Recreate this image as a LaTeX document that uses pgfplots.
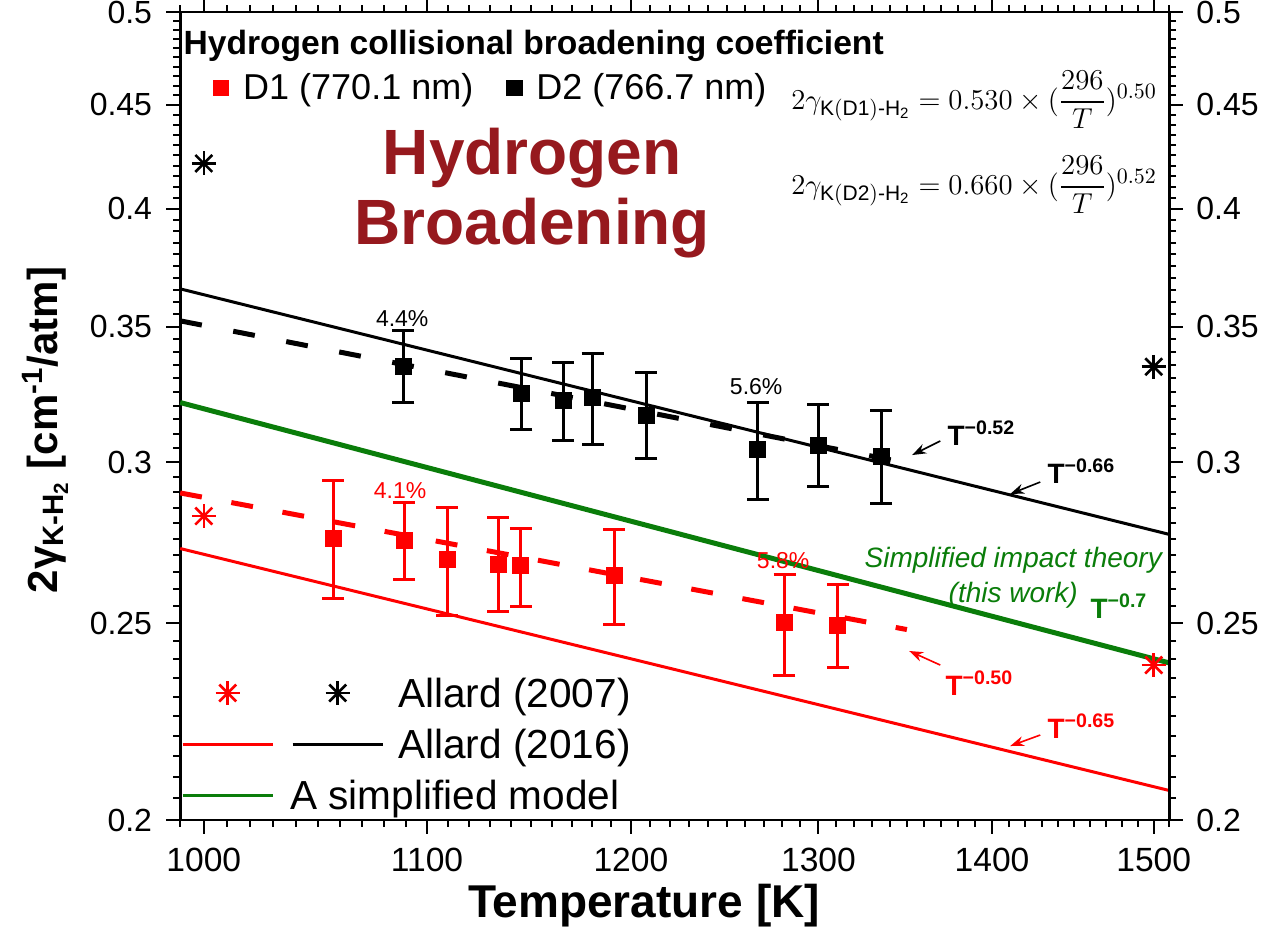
\documentclass[border=0pt]{standalone}
\usepackage{amsmath}
\usepackage{fontspec}
\usepackage{pgfplots}
\usepackage{pgfplotstable}
\pgfplotsset{compat=1.18}
\usetikzlibrary{arrows.meta}
\setmainfont{Liberation Sans}
\definecolor{hbred}{RGB}{150,25,30}
\definecolor{dgreen}{RGB}{10,125,10}

% D2 (766.7 nm): T, value, error plus, error minus
\pgfplotstableread{
T y ep em
1088.9 0.3344 0.0139 0.0134
1145.2 0.3245 0.0131 0.0129
1165.8 0.3220 0.0141 0.0145
1180.5 0.3230 0.0165 0.0167
1207.9 0.3166 0.0155 0.0152
1266.8 0.3045 0.0167 0.0168
1300.0 0.3060 0.0144 0.0139
1335.3 0.3020 0.0161 0.0158
}\dtwo
% D1 (770.1 nm)
\pgfplotstableread{
T y ep em
1056.9 0.2753 0.0186 0.0181
1089.3 0.2747 0.0119 0.0119
1109.5 0.2688 0.0163 0.0165
1133.9 0.2674 0.0144 0.0141
1144.9 0.2668 0.0116 0.0119
1191.4 0.2638 0.0143 0.0143
1281.3 0.2502 0.0139 0.0145
1310.8 0.2495 0.0118 0.0118
}\done

\begin{document}
\begin{tikzpicture}
\begin{axis}[scale only axis, width=494.5pt, height=404pt,
  xmode=log, ymode=log, xmin=990, xmax=1510, ymin=0.2, ymax=0.5,
  tick align=outside, major tick length=7pt,
  tick style={draw=black, line width=1pt},
  ytick={0.2,0.25,0.3,0.35,0.4,0.45,0.5},
  yticklabels={0.2,0.25,0.3,0.35,0.4,0.45,0.5},
  extra y ticks={0.205,0.21,0.215,0.22,0.225,0.23,0.235,0.24,0.245,
    0.255,0.26,0.265,0.27,0.275,0.28,0.285,0.29,0.295,
    0.305,0.31,0.315,0.32,0.325,0.33,0.335,0.34,0.345,
    0.355,0.36,0.365,0.37,0.375,0.38,0.385,0.39,0.395,
    0.405,0.41,0.415,0.42,0.425,0.43,0.435,0.44,0.445,
    0.455,0.46,0.465,0.47,0.475,0.48,0.485,0.49,0.495},
  extra y tick labels={},
  extra y tick style={major tick length=3.5pt, tick style={draw=black, line width=1pt}},
  axis line style={line width=1.4pt},
  clip=false,
  xtick={1000,1100,1200,1300,1400,1500},
  xticklabels={1000,1100,1200,1300,1400,1500},
  extra x ticks={990,1010,1020,1030,1040,1050,1060,1070,1080,1090,
    1110,1120,1130,1140,1150,1160,1170,1180,1190,
    1210,1220,1230,1240,1250,1260,1270,1280,1290,
    1310,1320,1330,1340,1350,1360,1370,1380,1390,
    1410,1420,1430,1440,1450,1460,1470,1480,1490,1510},
  extra x tick labels={},
  extra x tick style={major tick length=3.5pt, tick style={draw=black, line width=1pt}},
  xtick pos=both, ytick pos=left, xticklabel pos=lower,
  xticklabel style={font=\fontsize{16.8}{18}\selectfont, inner sep=0pt, anchor=north, yshift=-7pt},
  yticklabel style={font=\fontsize{16}{18}\selectfont, inner sep=0pt, anchor=east, xshift=-7pt},
  xlabel={Temperature [K]},
  xlabel style={font=\bfseries\fontsize{23}{25}\selectfont, at={(axis description cs:0.469,0)}, anchor=north, yshift=-32pt, inner sep=0pt},
  ylabel={2γ\textsubscript{K-H\textsubscript{2}} [cm\textsuperscript{-1}/atm]},
  ylabel style={font=\bfseries\fontsize{21}{23}\selectfont, at={(axis description cs:-0.1365,0.4827)}, anchor=center, inner sep=0pt},
  legend columns=2, legend cell align=left,
  legend style={at={(axis description cs:0.001,0)}, anchor=south west, yshift=0.8pt,
    draw=none, fill=none, inner sep=0pt, outer sep=0pt, row sep=2.1pt, column sep=0pt,
    font=\fontsize{20.3}{22}\selectfont,
    nodes={inner sep=0pt, text height=19pt, text depth=4.4pt},
    /tikz/column 1/.append style={column sep=7.5pt},
    /tikz/column 2/.append style={column sep=0pt},
    /tikz/column 3/.append style={column sep=7pt}},
  legend image code/.code={\draw[mark repeat=2, mark phase=2, #1] plot coordinates {(0pt,0pt) (22.5pt,0pt) (45pt,0pt)};},
]
% model lines
\addplot[forget plot, red, line width=1.5pt] coordinates {(990,0.2721) (1510,0.2068)};
\addplot[forget plot, black, line width=1.5pt] coordinates {(990,0.3653) (1510,0.2765)};
\addplot[forget plot, dgreen, line width=2.5pt] coordinates {(990,0.3211) (1510,0.2390)};
% fitted power laws (dashed)
\addplot[forget plot, black, line width=2.5pt, dash pattern=on 11pt off 16pt] coordinates {(990,0.3523) (1345,0.3004)};
\addplot[forget plot, red, line width=2.5pt, dash pattern=on 11pt off 15pt] coordinates {(990,0.2898) (1350,0.2482)};
% Allard 2007 (eight-armed stars: + and x overlaid)
\addplot[forget plot, red, only marks, mark=+, mark size=6pt, mark options={line width=1.3pt}] coordinates {(1000,0.2823) (1500,0.2384)};
\addplot[forget plot, red, only marks, mark=x, mark size=6pt, mark options={line width=1.3pt}] coordinates {(1000,0.2823) (1500,0.2384)};
\addplot[forget plot, black, only marks, mark=+, mark size=6pt, mark options={line width=1.3pt}] coordinates {(1000,0.4211) (1500,0.3344)};
\addplot[forget plot, black, only marks, mark=x, mark size=6pt, mark options={line width=1.3pt}] coordinates {(1000,0.4211) (1500,0.3344)};
% measurements
\addplot[forget plot, black, only marks, mark=square*, mark size=4pt,
  error bars/.cd, y dir=both, y explicit,
  error bar style={line width=1.5pt},
  error mark options={rotate=90, mark size=5.5pt, line width=1.5pt}]
  table[x=T, y=y, y error plus=ep, y error minus=em] {\dtwo};
\addplot[forget plot, red, only marks, mark=square*, mark size=4pt,
  error bars/.cd, y dir=both, y explicit,
  error bar style={line width=1.5pt},
  error mark options={rotate=90, mark size=5.5pt, line width=1.5pt}]
  table[x=T, y=y, y error plus=ep, y error minus=em] {\done};
% legend
\addlegendimage{legend image code/.code={\draw[red, only marks, mark=+, mark size=6pt, mark options={line width=1.3pt}] plot coordinates {(22.5pt,0pt)}; \draw[red, only marks, mark=x, mark size=6pt, mark options={line width=1.3pt}] plot coordinates {(22.5pt,0pt)};}}
\addlegendentry{}
\addlegendimage{legend image code/.code={\draw[black, only marks, mark=+, mark size=6pt, mark options={line width=1.3pt}] plot coordinates {(22.5pt,0pt)}; \draw[black, only marks, mark=x, mark size=6pt, mark options={line width=1.3pt}] plot coordinates {(22.5pt,0pt)};}}
\addlegendentry{Allard (2007)}
\addlegendimage{red, mark=none, line width=1.5pt}
\addlegendentry{}
\addlegendimage{black, mark=none, line width=1.5pt}
\addlegendentry{Allard (2016)}
\addlegendimage{dgreen, mark=none, line width=1.5pt}
\addlegendentry{\rlap{A simplified model}}
% annotations
\node[font=\bfseries\fontsize{32}{35}\selectfont, text=hbred, align=center] at (rel axis cs:0.356,0.776) {Hydrogen\\Broadening};
\node[anchor=base west, inner sep=0pt, font=\bfseries\fontsize{16.8}{18}\selectfont] at (rel axis cs:0.003,0.948) {Hydrogen collisional broadening coefficient};
\node[anchor=base, inner sep=0pt, font=\fontsize{11.5}{13}\selectfont] at (rel axis cs:0.2245,0.6114) {4.4\%};
\node[anchor=base, inner sep=0pt, font=\fontsize{11.5}{13}\selectfont] at (rel axis cs:0.5824,0.5272) {5.6\%};
\node[anchor=base, inner sep=0pt, text=red, font=\fontsize{11.5}{13}\selectfont] at (rel axis cs:0.2224,0.3985) {4.1\%};
\node[anchor=base, inner sep=0pt, text=red, font=\fontsize{11.5}{13}\selectfont] at (rel axis cs:0.6097,0.3119) {5.8\%};
\node[anchor=base west, inner sep=0pt, font=\bfseries\fontsize{14}{16}\selectfont] at (rel axis cs:0.7755,0.4641) {T\textsuperscript{−0.52}};
\node[anchor=base west, inner sep=0pt, font=\bfseries\fontsize{14}{16}\selectfont] at (rel axis cs:0.8766,0.4171) {T\textsuperscript{−0.66}};
\node[anchor=base west, inner sep=0pt, text=red, font=\bfseries\fontsize{14}{16}\selectfont] at (rel axis cs:0.7735,0.1547) {T\textsuperscript{−0.50}};
\node[anchor=base west, inner sep=0pt, text=red, font=\bfseries\fontsize{14}{16}\selectfont] at (rel axis cs:0.8766,0.1015) {T\textsuperscript{−0.65}};
\node[anchor=base west, inner sep=0pt, text=dgreen, font=\bfseries\fontsize{14}{16}\selectfont] at (rel axis cs:0.9201,0.25) {T\textsuperscript{−0.7}};
\node[align=center, text=dgreen, font=\itshape\fontsize{14}{17.5}\selectfont] at (rel axis cs:0.8423,0.3001) {Simplified impact theory\\(this work)};
\draw[-{Stealth[length=7pt,width=5pt]}, line width=0.8pt] (rel axis cs:0.7685,0.4691) -- (rel axis cs:0.7401,0.4517);
\draw[-{Stealth[length=7pt,width=5pt]}, line width=0.8pt] (rel axis cs:0.8696,0.4183) -- (rel axis cs:0.8392,0.4035);
\draw[red, -{Stealth[length=7pt,width=5pt]}, line width=0.8pt] (rel axis cs:0.7685,0.1918) -- (rel axis cs:0.7371,0.2092);
\draw[red, -{Stealth[length=7pt,width=5pt]}, line width=0.8pt] (rel axis cs:0.8696,0.1052) -- (rel axis cs:0.8392,0.0916);
\node[anchor=east, inner sep=0pt, font=\fontsize{15}{17}\selectfont] at (rel axis cs:0.9879,0.8911)
  {$2\gamma_{\mathrm{K(D1)\text{-}H_2}} = 0.530\times(\dfrac{296}{T})^{0.50}$};
\node[anchor=east, inner sep=0pt, font=\fontsize{15}{17}\selectfont] at (rel axis cs:0.9879,0.7859)
  {$2\gamma_{\mathrm{K(D2)\text{-}H_2}} = 0.660\times(\dfrac{296}{T})^{0.52}$};
\coordinate (bl) at (rel axis cs:0,0);
\end{axis}
\begin{axis}[scale only axis, width=494.5pt, height=404pt,
  xmode=log, ymode=log, xmin=990, xmax=1510, ymin=0.2, ymax=0.5,
  tick align=outside, major tick length=7pt,
  tick style={draw=black, line width=1pt},
  ytick={0.2,0.25,0.3,0.35,0.4,0.45,0.5},
  yticklabels={0.2,0.25,0.3,0.35,0.4,0.45,0.5},
  extra y ticks={0.205,0.21,0.215,0.22,0.225,0.23,0.235,0.24,0.245,
    0.255,0.26,0.265,0.27,0.275,0.28,0.285,0.29,0.295,
    0.305,0.31,0.315,0.32,0.325,0.33,0.335,0.34,0.345,
    0.355,0.36,0.365,0.37,0.375,0.38,0.385,0.39,0.395,
    0.405,0.41,0.415,0.42,0.425,0.43,0.435,0.44,0.445,
    0.455,0.46,0.465,0.47,0.475,0.48,0.485,0.49,0.495},
  extra y tick labels={},
  extra y tick style={major tick length=3.5pt, tick style={draw=black, line width=1pt}},
  axis line style={line width=1.4pt},
  axis x line=none, axis y line*=right,
  yticklabel style={font=\fontsize{16}{18}\selectfont, inner sep=0pt, anchor=west, xshift=6.5pt},
  legend columns=2,
  legend style={at={(axis description cs:0.0334,0.906)}, anchor=west,
    draw=none, fill=none, inner sep=0pt, outer sep=0pt, column sep=0pt,
    font=\fontsize{18}{20}\selectfont, nodes={inner sep=0pt},
    /tikz/column 1/.append style={column sep=7pt},
    /tikz/column 2/.append style={column sep=16.5pt},
    /tikz/column 3/.append style={column sep=7pt}},
]
\addlegendimage{legend image code/.code={\fill[red] (-3.8pt,-3.8pt) rectangle (3.8pt,3.8pt);}}
\addlegendentry{D1 (770.1 nm)}
\addlegendimage{legend image code/.code={\fill[black] (-3.8pt,-3.8pt) rectangle (3.8pt,3.8pt);}}
\addlegendentry{D2 (766.7 nm)}
\end{axis}
\pgfresetboundingbox
\path[use as bounding box] (bl) ++(-90pt,-64.5pt) rectangle ++(642pt,474.5pt);
\end{tikzpicture}
\end{document}
